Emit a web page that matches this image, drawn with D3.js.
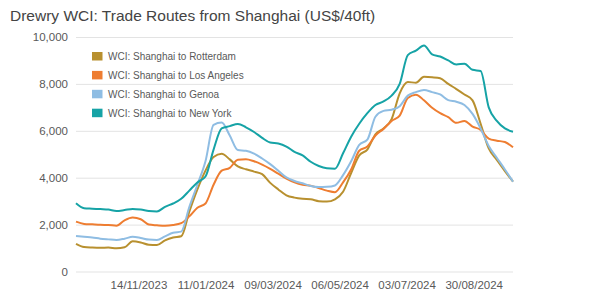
<!DOCTYPE html>
<html>
<head>
<meta charset="utf-8">
<script src="https://cdnjs.cloudflare.com/ajax/libs/d3/7.8.5/d3.min.js"></script>
<style>
	body { margin: 0; background: #fff; }
	svg { display: block; font-family: "Liberation Sans", Arial, sans-serif; }
	.title { font-size: 15.5px; fill: #444; }
	.tick text { font-size: 11.5px; fill: #595959; }
	.legend text { font-size: 10px; fill: #595959; }
</style>
</head>
<body>
<div id="chart"></div>
<script>

/*
Chart data: weekly WCI readings (Thursdays)
*/
var firstWeek = "2023-09-21";
var nrOfWeeks = 55;

var seriesNames = [
	"WCI: Shanghai to Rotterdam",
	"WCI: Shanghai to Los Angeles",
	"WCI: Shanghai to Genoa",
	"WCI: Shanghai to New York"
];

var seriesColors = ["#b8902f", "#ee7d31", "#8fbde3", "#16a3a6"];

var rotterdam = [
	1175, 1040, 1020, 1010, 1020, 990, 1030, 1290, 1240, 1140,
	1130, 1330, 1450, 1500, 2550, 3500, 4300, 4880, 5020, 4780,
	4480, 4360, 4260, 4150, 3780, 3500, 3250, 3150, 3100, 3080,
	3000, 2980, 3080, 3400, 4200, 4950, 5200, 5850, 6100, 6500,
	7600, 8080, 8050, 8300, 8280, 8240, 8000, 7780, 7550, 7300,
	6300, 5250, 4760, 4280, 3830
];

var losAngeles = [
	2125, 2030, 2010, 1990, 1985, 1950, 2180, 2300, 2230, 2000,
	1970, 1950, 1980, 2060, 2350, 2720, 2900, 3700, 4300, 4420,
	4770, 4790, 4700, 4560, 4380, 4170, 3960, 3800, 3700, 3660,
	3560, 3450, 3380, 3800, 4350, 5150, 5330, 5800, 6080, 6420,
	6650, 7400, 7540, 7300, 6980, 6750, 6580, 6340, 6420, 6180,
	6040, 5670, 5580, 5520, 5300
];

var genoa = [
	1515, 1480, 1450, 1400, 1370, 1345, 1400, 1480, 1430, 1360,
	1345, 1500, 1650, 1700, 2750, 3700, 4700, 6250, 6350, 5800,
	5180, 5150, 5030, 4820, 4580, 4300, 4010, 3860, 3760, 3650,
	3600, 3610, 3670, 4110, 4700, 5400, 5620, 6600, 6850, 6900,
	7050, 7500, 7650, 7740, 7650, 7550, 7310, 7240, 7100, 6720,
	6100, 5350, 4850, 4350, 3830
];

var newYork = [
	2910, 2700, 2680, 2660, 2640, 2580, 2620, 2670, 2640, 2580,
	2560, 2760, 2900, 3100, 3450, 3800, 4050, 5200, 6100, 6200,
	6290, 6150, 5950, 5700, 5500, 5460, 5330, 5100, 4950, 4680,
	4500, 4400, 4380, 5040, 5750, 6300, 6750, 7100, 7250, 7500,
	8000, 9230, 9420, 9640, 9260, 9170, 9000, 8830, 8860, 8600,
	8550, 7000, 6420, 6100, 5960
];

var yTickValues = [0, 2000, 4000, 6000, 8000, 10000];
var xTickLabels = ["14/11/2023", "11/01/2024", "09/03/2024", "06/05/2024", "03/07/2024", "30/08/2024"];

/*
Build the weekly dates and the series table
*/
var parseIso = d3.timeParse("%Y-%m-%d");
var parseLabel = d3.timeParse("%d/%m/%Y");
var weeks = d3.range(nrOfWeeks).map(function(i) {
	return d3.timeDay.offset(parseIso(firstWeek), 7 * i);
});
var allValues = [rotterdam, losAngeles, genoa, newYork];
var series = seriesNames.map(function(name, k) {
	return {
		name: name,
		color: seriesColors[k],
		points: weeks.map(function(w, i) { return { date: w, value: allValues[k][i] }; })
	};
});

/*
Sizes
*/
var width = 600, height = 300;
var margin = { top: 37, right: 87, bottom: 28.5, left: 76 };
var innerWidth = width - margin.left - margin.right,
	innerHeight = height - margin.top - margin.bottom;

var svg = d3.select("#chart").append("svg")
	.attr("width", width)
	.attr("height", height);

svg.append("text")
	.attr("class", "title")
	.attr("x", 10)
	.attr("y", 21)
	.text("Drewry WCI: Trade Routes from Shanghai (US$/40ft)");

var g = svg.append("g")
	.attr("transform", "translate(" + margin.left + "," + margin.top + ")");

// Scales
var xScale = d3.scaleTime()
	.domain([weeks[0], weeks[weeks.length - 1]])
	.range([0, innerWidth]);

var yScale = d3.scaleLinear()
	.domain([0, 10000])
	.range([innerHeight, 0]);

// y-axis with gridlines
var yAxis = d3.axisLeft(yScale)
	.tickValues(yTickValues)
	.tickSize(-innerWidth)
	.tickPadding(8)
	.tickFormat(d3.format(",d"));

var gY = g.append("g").attr("class", "y axis").call(yAxis);
gY.select(".domain").remove();
gY.selectAll(".tick line").attr("stroke", "#e3e3e3").attr("stroke-width", 1);

// x-axis, labels only
var xAxis = d3.axisBottom(xScale)
	.tickValues(xTickLabels.map(parseLabel))
	.tickSize(0)
	.tickPadding(9)
	.tickFormat(d3.timeFormat("%d/%m/%Y"));

var gX = g.append("g")
	.attr("class", "x axis")
	.attr("transform", "translate(0," + innerHeight + ")")
	.call(xAxis);
gX.select(".domain").remove();

// Lines
var line = d3.line()
	.curve(d3.curveMonotoneX)
	.x(function(d) { return xScale(d.date); })
	.y(function(d) { return yScale(d.value); });

g.append("g").selectAll("path")
	.data(series)
	.enter().append("path")
	.attr("fill", "none")
	.attr("stroke", function(d) { return d.color; })
	.attr("stroke-width", 2)
	.attr("stroke-linejoin", "round")
	.attr("d", function(d) { return line(d.points); });

// Legend
var legend = svg.append("g")
	.attr("class", "legend")
	.attr("transform", "translate(92,52)");

var items = legend.selectAll("g")
	.data(series)
	.enter().append("g")
	.attr("transform", function(d, i) { return "translate(0," + (i * 18.9) + ")"; });

items.append("rect")
	.attr("width", 10.5)
	.attr("height", 8.5)
	.attr("fill", function(d) { return d.color; });

items.append("text")
	.attr("x", 16)
	.attr("y", 8)
	.text(function(d) { return d.name; });

</script>
</body>
</html>
